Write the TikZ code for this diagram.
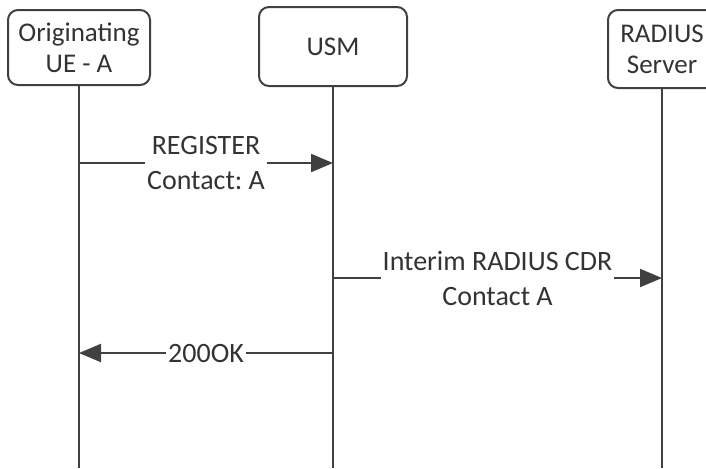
\documentclass[tikz,border=0pt]{standalone}
\usepackage{fontspec}
\setmainfont{Carlito}
\usepackage{xcolor}
\usetikzlibrary{arrows.meta}
\definecolor{linegray}{HTML}{404040}
\definecolor{textgray}{HTML}{333333}
\tikzset{
    entity/.style={draw=linegray, line width=1pt, rounded corners=5pt, align=center,
        text=textgray, inner sep=0pt, font=\fontsize{13.5}{15.5}\selectfont},
    lifeline/.style={draw=linegray, line width=1pt},
    msg/.style={draw=linegray, line width=1pt, -{Triangle[length=11pt,width=9pt]}},
    msglabel/.style={fill=white, align=center, text=textgray, inner sep=1pt,
        font=\fontsize{14}{17.5}\selectfont}
}

\begin{document}
\begin{tikzpicture}[x=0.5pt,y=-0.5pt]
            \useasboundingbox (0,0) rectangle (706,468);
            \node[entity, minimum width=71pt, minimum height=37.5pt] (ue) at (79,47.5) {Originating\\UE - A};
            \node[entity, minimum width=74pt, minimum height=39.5pt] (usm) at (333,46.5) {USM};
            \node[entity, minimum width=54pt, minimum height=39pt] (radius) at (662,49) {RADIUS\\Server};
            \coordinate (ue-end) at (ue.south |- 0,468);
            \coordinate (usm-end) at (usm.south |- 0,468);
            \coordinate (radius-end) at (radius.south |- 0,468);
            \draw[lifeline] (ue.south) -- (ue-end);
            \draw[lifeline] (usm.south) -- (usm-end);
            \draw[lifeline] (radius.south) -- (radius-end);
            \draw[msg] (ue.south |- 0,163) -- node[msglabel] {REGISTER\\Contact:\ A} (usm.south |- 0,163);
            \draw[msg] (usm.south |- 0,278) -- node[msglabel] {Interim RADIUS CDR\\Contact A} (radius.south |- 0,278);
            \draw[msg] (usm.south |- 0,353) -- node[msglabel] {200OK} (ue.south |- 0,353);
        \end{tikzpicture}
\end{document}
